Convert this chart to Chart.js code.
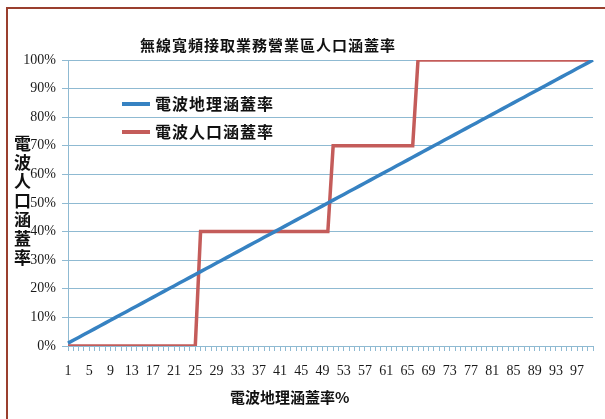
<!DOCTYPE html>
<html lang="zh-Hant">
<head>
<meta charset="UTF-8">
<title>無線寬頻接取業務營業區人口涵蓋率</title>
<script src="https://cdn.jsdelivr.net/npm/chart.js"></script>
<style>
    body {
        margin: 0;
        background: #fff;
        width: 605px;
        height: 419px;
        overflow: hidden;
        position: relative;
        font-family: 'Noto Sans CJK TC', sans-serif;
        color: #111;
    }
    .frame {
        position: absolute;
        left: 6px;
        top: 7px;
        width: 700px;
        height: 500px;
        border: 2px solid #9a3f2e;
    }
    #chart {
        position: absolute;
        left: 0;
        top: 0;
    }
    .title {
        position: absolute;
        left: 68px;
        width: 400px;
        text-align: center;
        top: 35px;
        font-size: 15px;
        line-height: 20px;
        font-weight: 700;
        letter-spacing: 1px;
        white-space: nowrap;
    }
    .x-title {
        position: absolute;
        left: 230px;
        top: 387px;
        font-size: 15px;
        line-height: 20px;
        font-weight: 700;
        white-space: nowrap;
    }
    .y-title {
        position: absolute;
        left: 13px;
        top: 135px;
        font-size: 17px;
        line-height: 19px;
        font-weight: 700;
        writing-mode: vertical-rl;
        text-orientation: upright;
        letter-spacing: 2px;
    }
    .legend {
        position: absolute;
        left: 122px;
        top: 92px;
    }
    .legend div {
        height: 28px;
        line-height: 22px;
        font-size: 16px;
        font-weight: 700;
        letter-spacing: 1px;
        white-space: nowrap;
    }
    .legend span {
        display: inline-block;
        width: 28px;
        height: 4px;
        vertical-align: middle;
        margin-right: 5px;
        position: relative;
        top: -2px;
    }
</style>
</head>
<body>
<div class="frame"></div>
<canvas id="chart" width="605" height="419"></canvas>
<div class="title">無線寬頻接取業務營業區人口涵蓋率</div>
<div class="y-title">電波人口涵蓋率</div>
<div class="x-title">電波地理涵蓋率%</div>
<div class="legend">
    <div><span style="background:#3682c2"></span>電波地理涵蓋率</div>
    <div><span style="background:#c45c5a"></span>電波人口涵蓋率</div>
</div>

<script>
    // 電波地理涵蓋率 (x 軸類別)
    const categories = [
        1, 2, 3, 4, 5, 6, 7, 8, 9, 10,
        11, 12, 13, 14, 15, 16, 17, 18, 19, 20,
        21, 22, 23, 24, 25, 26, 27, 28, 29, 30,
        31, 32, 33, 34, 35, 36, 37, 38, 39, 40,
        41, 42, 43, 44, 45, 46, 47, 48, 49, 50,
        51, 52, 53, 54, 55, 56, 57, 58, 59, 60,
        61, 62, 63, 64, 65, 66, 67, 68, 69, 70,
        71, 72, 73, 74, 75, 76, 77, 78, 79, 80,
        81, 82, 83, 84, 85, 86, 87, 88, 89, 90,
        91, 92, 93, 94, 95, 96, 97, 98, 99, 100
    ];

    // 電波地理涵蓋率 (%)
    const geoCoverage = [
        1, 2, 3, 4, 5, 6, 7, 8, 9, 10,
        11, 12, 13, 14, 15, 16, 17, 18, 19, 20,
        21, 22, 23, 24, 25, 26, 27, 28, 29, 30,
        31, 32, 33, 34, 35, 36, 37, 38, 39, 40,
        41, 42, 43, 44, 45, 46, 47, 48, 49, 50,
        51, 52, 53, 54, 55, 56, 57, 58, 59, 60,
        61, 62, 63, 64, 65, 66, 67, 68, 69, 70,
        71, 72, 73, 74, 75, 76, 77, 78, 79, 80,
        81, 82, 83, 84, 85, 86, 87, 88, 89, 90,
        91, 92, 93, 94, 95, 96, 97, 98, 99, 100
    ];

    // 電波人口涵蓋率 (%)
    const popCoverage = [
        0, 0, 0, 0, 0, 0, 0, 0, 0, 0,
        0, 0, 0, 0, 0, 0, 0, 0, 0, 0,
        0, 0, 0, 0, 0, 40, 40, 40, 40, 40,
        40, 40, 40, 40, 40, 40, 40, 40, 40, 40,
        40, 40, 40, 40, 40, 40, 40, 40, 40, 40,
        70, 70, 70, 70, 70, 70, 70, 70, 70, 70,
        70, 70, 70, 70, 70, 70, 100, 100, 100, 100,
        100, 100, 100, 100, 100, 100, 100, 100, 100, 100,
        100, 100, 100, 100, 100, 100, 100, 100, 100, 100,
        100, 100, 100, 100, 100, 100, 100, 100, 100, 100
    ];

    const yTicks = [0, 10, 20, 30, 40, 50, 60, 70, 80, 90, 100];

    const gridBlue = '#8fbad2';
    const tickFont = { family: "'Liberation Serif', serif", size: 14 };

    new Chart(document.getElementById('chart'), {
        type: 'line',
        data: {
            labels: categories,
            datasets: [{
                label: '電波地理涵蓋率',
                data: geoCoverage,
                borderColor: '#3682c2',
                borderWidth: 3.5,
                pointRadius: 0,
                tension: 0
            }, {
                label: '電波人口涵蓋率',
                data: popCoverage,
                borderColor: '#c45c5a',
                borderWidth: 3.5,
                pointRadius: 0,
                tension: 0
            }]
        },
        options: {
            responsive: false,
            animation: false,
            layout: {
                padding: { left: 0, top: 60, right: 9, bottom: 0 }
            },
            plugins: {
                legend: { display: false },
                title: { display: false },
                tooltip: { enabled: false }
            },
            scales: {
                x: {
                    offset: false,
                    grid: {
                        drawOnChartArea: false,
                        color: gridBlue,
                        tickLength: 5
                    },
                    border: { color: gridBlue },
                    ticks: {
                        autoSkip: false,
                        maxRotation: 0,
                        padding: 12,
                        color: '#1a1a1a',
                        font: tickFont,
                        callback: function (value, index) {
                            return index % 4 === 0 ? String(categories[index]) : '';
                        }
                    },
                    afterFit: function (scale) {
                        scale.height = 73;
                    }
                },
                y: {
                    min: 0,
                    max: 100,
                    afterBuildTicks: function (scale) {
                        scale.ticks = yTicks.map(v => ({ value: v }));
                    },
                    grid: {
                        color: gridBlue,
                        tickLength: 6
                    },
                    border: { color: gridBlue },
                    ticks: {
                        padding: 6,
                        color: '#1a1a1a',
                        font: tickFont,
                        callback: v => v + '%'
                    },
                    afterFit: function (scale) {
                        scale.width = 68;
                    }
                }
            }
        }
    });
</script>
</body>
</html>
